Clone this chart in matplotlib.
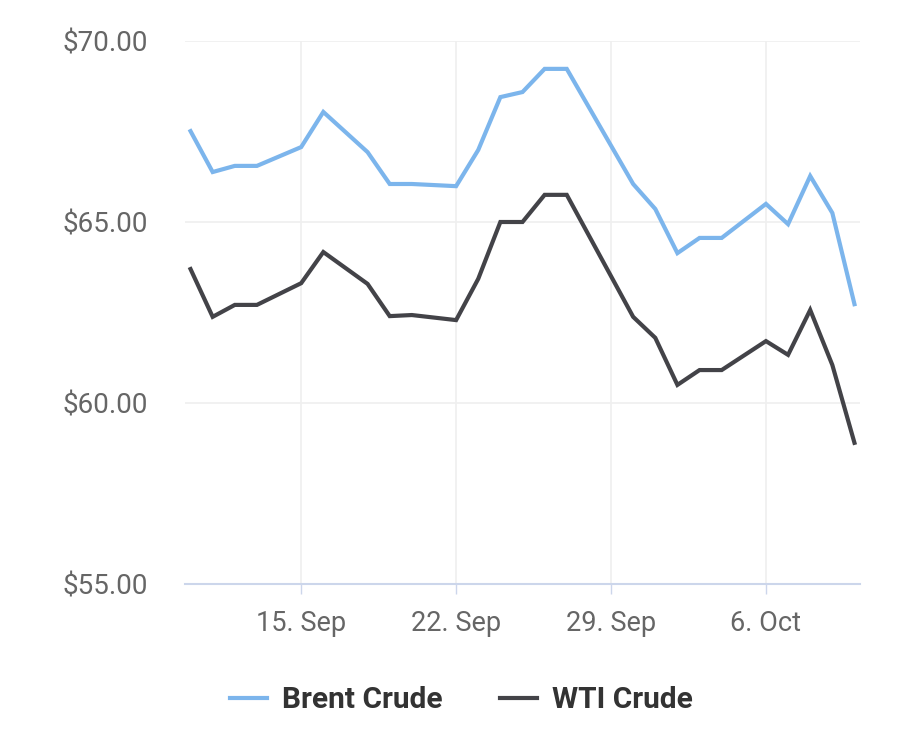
import matplotlib.pyplot as plt
import pandas as pd

# Daily crude prices (USD / barrel)
DATES = [
    "2019-09-10", "2019-09-11", "2019-09-12", "2019-09-13", "2019-09-15",
    "2019-09-16", "2019-09-18", "2019-09-19", "2019-09-20", "2019-09-22",
    "2019-09-23", "2019-09-24", "2019-09-25", "2019-09-26", "2019-09-27",
    "2019-09-30", "2019-10-01", "2019-10-02", "2019-10-03", "2019-10-04",
    "2019-10-06", "2019-10-07", "2019-10-08", "2019-10-09", "2019-10-10",
]
BRENT = [
    67.51, 66.38, 66.55, 66.55, 67.07,
    68.04, 66.93, 66.05, 66.05, 65.99,
    66.99, 68.45, 68.59, 69.23, 69.23,
    66.05, 65.36, 64.14, 64.56, 64.56,
    65.50, 64.94, 66.27, 65.25, 62.73,
]
WTI = [
    63.70, 62.38, 62.71, 62.71, 63.31,
    64.17, 63.29, 62.40, 62.43, 62.29,
    63.43, 65.00, 65.00, 65.75, 65.75,
    62.38, 61.80, 60.50, 60.91, 60.91,
    61.71, 61.33, 62.57, 61.05, 58.90,
]
X_TICKS = ["2019-09-15", "2019-09-22", "2019-09-29", "2019-10-06"]
X_TICK_LABELS = ["15. Sep", "22. Sep", "29. Sep", "6. Oct"]
Y_TICKS = [55, 60, 65, 70]

plt.rcParams["font.family"] = ["Roboto", "DejaVu Sans"]

dates = pd.to_datetime(DATES)
fig = plt.figure(figsize=(9.05, 7.43), dpi=100)
ax = fig.add_axes([185 / 905, 1 - 584 / 743, 675 / 905, 543 / 743])

ax.plot(dates, BRENT, color="#7cb5ec", lw=3, label="Brent Crude", solid_joinstyle="miter")
ax.plot(dates, WTI, color="#434348", lw=3, label="WTI Crude", solid_joinstyle="miter")

ax.set_ylim(55, 70)
ax.set_xlim(pd.Timestamp("2019-09-09 18:00"), pd.Timestamp("2019-10-10 06:00"))
ax.set_yticks(Y_TICKS)
ax.set_yticklabels([f"${v:.2f}" for v in Y_TICKS])
ax.set_xticks(pd.to_datetime(X_TICKS))
ax.set_xticklabels(X_TICK_LABELS)

ax.grid(True, color="#efefef", lw=1.2)
ax.set_axisbelow(True)
for side in ["top", "left", "right"]:
    ax.spines[side].set_visible(False)
ax.spines["bottom"].set_color("#ccd6eb")
ax.spines["bottom"].set_linewidth(1.5)

ax.tick_params(axis="y", length=0, pad=27, labelsize=20, labelcolor="#666666")
ax.tick_params(axis="x", length=7, width=1, color="#ccd6eb", pad=12,
               labelsize=19.5, labelcolor="#666666")

fig.legend(loc="center", bbox_to_anchor=(0.5 + 9 / 905, 1 - 700 / 743), ncol=2, frameon=False,
           handlelength=1.25, handletextpad=0.5, columnspacing=1.9,
           prop={"weight": "bold", "size": 21.5})
for t in fig.legends[0].get_texts():
    t.set_color("#333333")

fig.savefig("out.png", dpi=100)
